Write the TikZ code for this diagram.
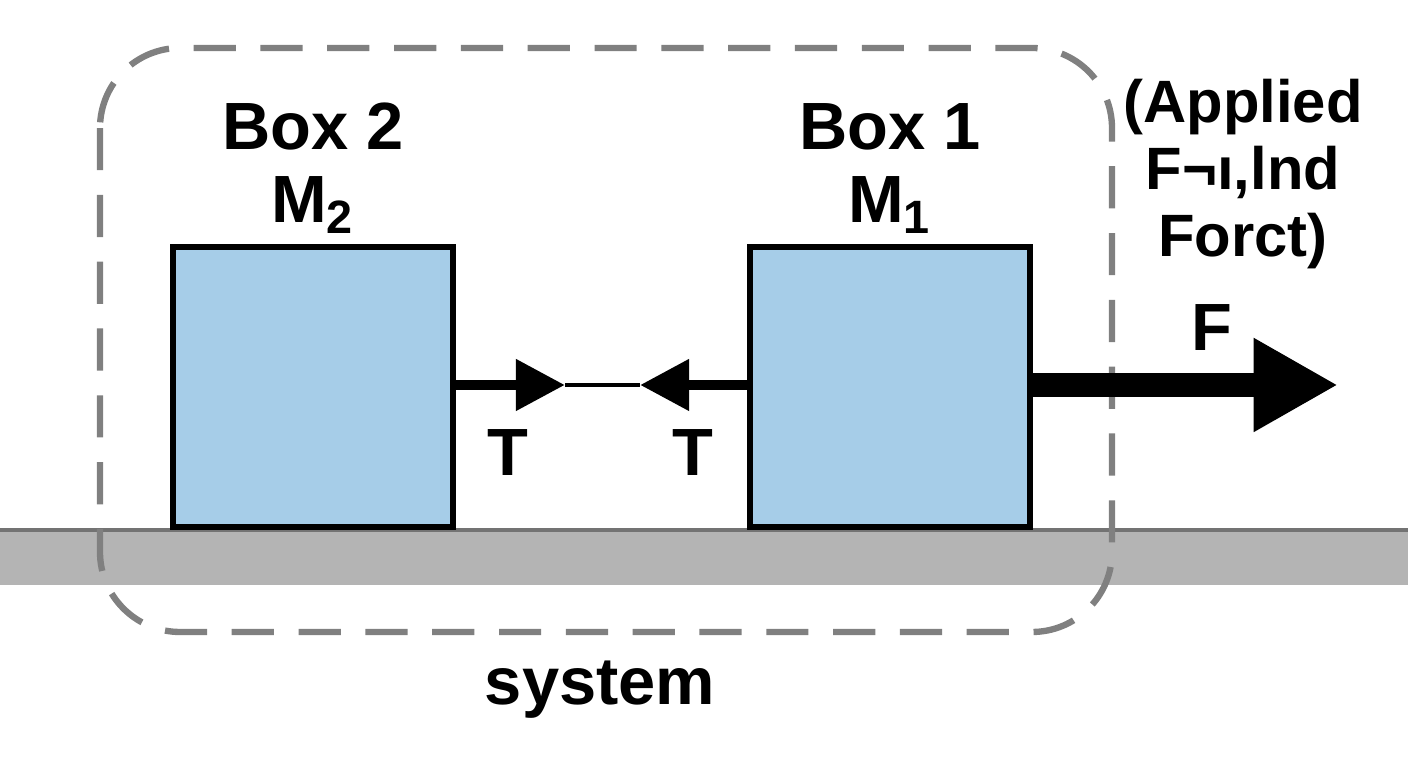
\documentclass[tikz,border=0pt]{standalone}
\usepackage{fontspec}
\setmainfont{Liberation Sans}
\usetikzlibrary{arrows.meta}
\definecolor{boxblue}{HTML}{A6CDE8}
\definecolor{floorgray}{HTML}{B4B4B4}
\begin{document}
\begin{tikzpicture}[x=0.01cm,y=-0.01cm]
	\tikzstyle{box}=[draw=black,line width=1.5pt,fill=boxblue,minimum width=2.8cm,minimum height=2.8cm,inner sep=0pt]
	\tikzstyle{lbl}=[font=\bfseries\fontsize{19}{23}\selectfont,align=center,inner sep=0pt]
	\tikzstyle{rope}=[line width=3pt,-{Triangle[length=14pt,width=14pt]}]
	\useasboundingbox (0,0) rectangle (1408,768);
	\fill[floorgray] (0,530) rectangle (1408,585);
	\draw[gray!90!black,line width=1pt] (0,530) -- (1408,530);
	\node[box] (b2) at (313,387) {};
	\node[box] (b1) at (890,387) {};
	\draw[gray,dashed,line width=1.8pt,dash pattern=on 12pt off 7pt,rounded corners=0.8cm] (100,48) rectangle (1112,632);
	\node[lbl] (n2) at (313,127) {Box 2};
	\node[lbl] (m2) at (313,205) {M\textsubscript{2}};
	\node[lbl] (n1) at (890,127) {Box 1};
	\node[lbl] (m1) at (890,205) {M\textsubscript{1}};
	\coordinate (k2) at (565,385);
	\coordinate (k1) at (640,385);
	\coordinate (fe) at (1338,385);
	\draw[rope] (b2.east |- k2) -- (k2);
	\draw[line width=1pt] (k2) -- (k1);
	\draw[rope] (b1.west |- k1) -- (k1);
	\node[lbl] (t2) at (508,453) {T};
	\node[lbl] (t1) at (693,453) {T};
	\draw[line width=7pt,-{Triangle[length=24pt,width=25pt]}] (b1.east |- fe) -- (fe);
	\node[lbl] (f) at (1212,328) {F};
	\node[lbl,font=\bfseries\fontsize{17}{19}\selectfont] (app) at (1243,174) {(Applied\\F¬ı,lnd\\Forct)};
	\node[lbl] (sys) at (600,690) {system};
\end{tikzpicture}
\end{document}
